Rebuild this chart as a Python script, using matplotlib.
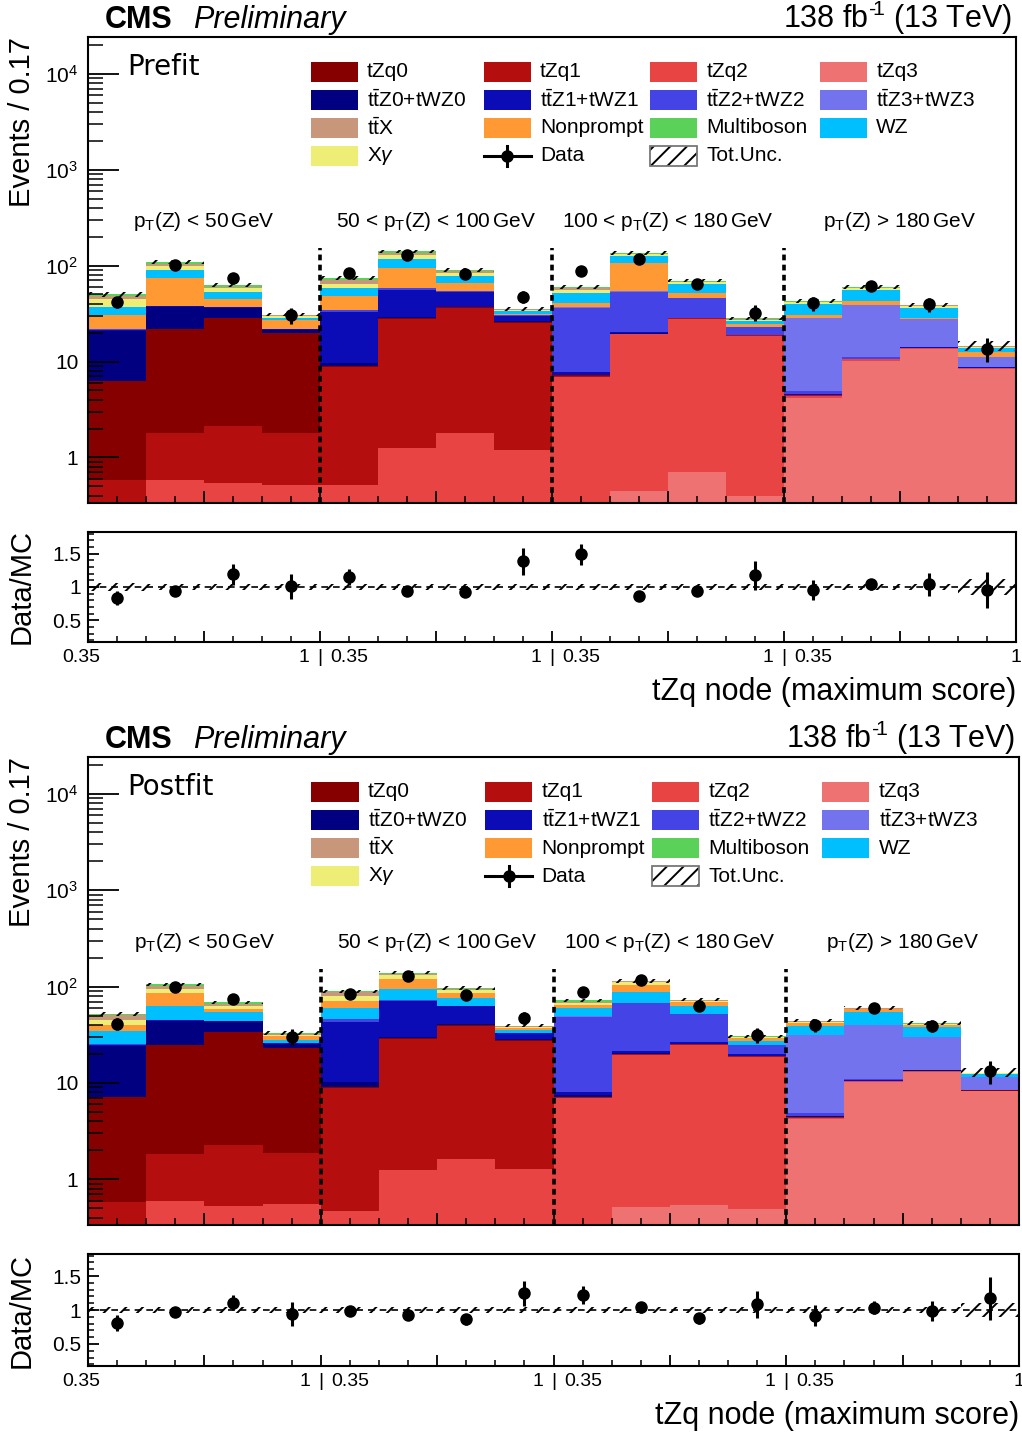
import numpy as np
import matplotlib.pyplot as plt
import matplotlib.ticker as mticker
import matplotlib.transforms as mtransforms
from matplotlib.patches import Rectangle

plt.rcParams['font.family'] = ['Liberation Sans', 'DejaVu Sans']
plt.rcParams['mathtext.fontset'] = 'custom'
plt.rcParams['mathtext.rm'] = 'Liberation Sans'
plt.rcParams['mathtext.it'] = 'Liberation Sans:italic'
plt.rcParams['mathtext.bf'] = 'Liberation Sans:bold'
plt.rcParams['hatch.linewidth'] = 1.4

W, H = 1022, 1433

# 4 pT(Z) regions x 4 bins of the tZq node score
n_bins = 16
region_labels = [r'p$_{\mathrm{T}}$(Z) < 50$\,$GeV',
                 r'50 < p$_{\mathrm{T}}$(Z) < 100$\,$GeV',
                 r'100 < p$_{\mathrm{T}}$(Z) < 180$\,$GeV',
                 r'p$_{\mathrm{T}}$(Z) > 180$\,$GeV']
x_edge_labels = ['0.35', '1 | 0.35', '1 | 0.35', '1 | 0.35', '1']

# ---------------- prefit ----------------
pre_tzq0 = [5.74, 20.2, 26.0, 18.2, 0.2, 0.7, 0.6, 0.5, 0.05, 0.05, 0.05, 0.05, 0.05, 0.05, 0.05, 0.05]
pre_tzq1 = [0.58, 1.21, 1.59, 1.28, 8.2, 26.2, 34.2, 24.2, 0.15, 0.35, 0.4, 0.3, 0.05, 0.1, 0.2, 0.05]
pre_tzq2 = [0.0, 0.58, 0.54, 0.51, 0.51, 1.24, 1.79, 1.19, 6.96, 18.7, 27.0, 18.0, 0.2, 0.3, 0.3, 0.1]
pre_tzq3 = [0.0, 0.0, 0.0, 0.0, 0.0, 0.0, 0.0, 0.0, 0.0, 0.45, 0.70, 0.40, 4.2, 10.2, 13.4, 8.4]
pre_ttz0 = [14.5, 15.0, 8.0, 1.4, 0.8, 0.8, 0.6, 0.5, 0.15, 0.1, 0.1, 0.1, 0.02, 0.02, 0.02, 0.02]
pre_ttz1 = [0.6, 0.8, 0.5, 0.3, 23.3, 26.7, 16.3, 3.6, 0.55, 0.5, 0.3, 0.2, 0.05, 0.05, 0.05, 0.05]
pre_ttz2 = [0.3, 0.3, 0.2, 0.1, 1.3, 2.4, 1.5, 0.3, 28.45, 33.35, 16.95, 3.95, 0.35, 0.5, 0.3, 0.1]
pre_ttz3 = [0.02, 0.02, 0.02, 0.02, 0.02, 0.02, 0.02, 0.02, 0.3, 0.3, 0.2, 0.1, 23.2, 27.5, 13.3, 2.5]
pre_nonprompt = [8.5, 35.7, 7.6, 5.1, 13.8, 36.0, 10.3, 1.0, 4.4, 52.2, 5.8, 1.8, 2.8, 3.9, 0.9, 1.2]
pre_wz = [7.0, 16.4, 9.1, 1.8, 9.9, 23.5, 13.4, 2.2, 11.2, 18.5, 12.8, 1.4, 8.5, 13.0, 7.8, 1.5]
pre_xgamma = [7.2, 9.8, 4.5, 1.0, 5.7, 12.0, 5.6, 1.0, 3.4, 7.1, 2.7, 0.9, 1.9, 2.4, 1.8, 0.3]
pre_ttx = [3.7, 4.0, 2.2, 0.6, 7.0, 7.2, 3.4, 0.7, 2.4, 1.9, 1.2, 0.5, 0.7, 1.0, 0.3, 0.2]
pre_multiboson = [2.0, 4.6, 2.6, 0.6, 3.1, 3.9, 2.5, 0.4, 1.7, 1.5, 1.6, 0.4, 0.6, 1.2, 0.3, 0.1]
pre_data = [41.3, 101.7, 73.8, 30.3, 83.2, 129.5, 81.8, 47.4, 87.7, 117.5, 63.7, 32.4, 40.3, 61.3, 39.7, 13.6]
pre_ratio = [0.835, 0.935, 1.19, 1.01, 1.15, 0.935, 0.925, 1.385, 1.49, 0.865, 0.935, 1.175, 0.96, 1.04, 1.04, 0.96]
pre_ratio_err = [0.11, 0.05, 0.16, 0.19, 0.12, 0.05, 0.06, 0.2, 0.16, 0.04, 0.06, 0.22, 0.15, 0.08, 0.17, 0.27]
pre_unc = [0.055, 0.045, 0.045, 0.045, 0.045, 0.045, 0.045, 0.045, 0.04, 0.04, 0.04, 0.045, 0.045, 0.045, 0.05, 0.12]

# ---------------- postfit ----------------
post_tzq0 = [6.52, 23.07, 31.23, 21.14, 0.2, 0.66, 0.69, 0.53, 0.05, 0.05, 0.05, 0.05, 0.05, 0.05, 0.05, 0.05]
post_tzq1 = [0.578, 1.24, 1.74, 1.31, 8.36, 27.3, 37.7, 26.0, 0.15, 0.35, 0.35, 0.3, 0.05, 0.1, 0.2, 0.05]
post_tzq2 = [0.0, 0.588, 0.526, 0.547, 0.466, 1.24, 1.61, 1.27, 6.95, 19.0, 24.4, 18.3, 0.15, 0.2, 0.2, 0.05]
post_tzq3 = [0.0, 0.0, 0.0, 0.0, 0.0, 0.0, 0.0, 0.0, 0.05, 0.52, 0.543, 0.485, 4.22, 10.2, 13.0, 8.2]
post_ttz0 = [17.2, 18.9, 10.2, 2.4, 1.17, 0.8, 0.7, 0.6, 0.3, 0.3, 0.2, 0.1, 0.02, 0.02, 0.02, 0.02]
post_ttz1 = [0.7, 1.0, 0.5, 0.4, 32.5, 40.2, 21.5, 4.6, 0.5, 1.38, 1.26, 0.66, 0.05, 0.05, 0.05, 0.05]
post_ttz2 = [0.4, 0.3, 0.2, 0.1, 3.6, 2.5, 1.3, 0.3, 40.9, 45.9, 25.3, 4.8, 0.3, 0.3, 0.2, 0.1]
post_ttz3 = [0.02, 0.02, 0.02, 0.02, 0.02, 0.02, 0.02, 0.02, 0.3, 0.3, 0.2, 0.1, 26.8, 29.4, 16.5, 3.0]
post_wz = [9.5, 17.1, 9.9, 1.9, 13.5, 22.6, 12.7, 2.2, 10.6, 20.2, 11.2, 2.5, 7.8, 14.0, 8.2, 0.8]
post_nonprompt = [5.1, 23.7, 4.6, 2.7, 11.0, 24.0, 10.3, 1.4, 5.2, 17.0, 5.5, 1.7, 2.3, 3.6, 1.6, 0.2]
post_xgamma = [5.1, 9.4, 4.6, 1.0, 8.3, 11.7, 4.9, 1.1, 2.9, 6.7, 2.0, 0.7, 1.3, 1.1, 0.9, 0.1]
post_ttx = [5.8, 6.5, 2.7, 0.8, 8.6, 5.6, 3.1, 0.8, 2.1, 1.5, 1.0, 0.4, 0.8, 0.6, 0.4, 0.1]
post_multiboson = [1.2, 4.0, 2.7, 0.7, 1.7, 3.4, 2.3, 0.6, 1.9, 1.3, 1.0, 0.4, 0.6, 0.6, 0.4, 0.1]
post_data = [41.0, 100.0, 73.6, 30.3, 83.0, 129.5, 82.5, 47.4, 88.0, 116.3, 63.5, 31.6, 40.0, 60.2, 39.4, 13.3]
post_ratio = [0.805, 0.975, 1.107, 0.94, 0.985, 0.927, 0.863, 1.244, 1.22, 1.04, 0.878, 1.083, 0.917, 1.034, 0.985, 1.17]
post_ratio_err = [0.115, 0.04, 0.11, 0.18, 0.05, 0.04, 0.08, 0.18, 0.13, 0.08, 0.08, 0.2, 0.15, 0.1, 0.15, 0.32]
post_unc = [0.05, 0.04, 0.04, 0.04, 0.04, 0.04, 0.04, 0.04, 0.04, 0.04, 0.04, 0.04, 0.04, 0.04, 0.045, 0.11]

# colours
c_tzq = ['#870000', '#b40e0e', '#e84444', '#ef7272']
c_ttz = ['#000080', '#0c0cb6', '#4444e6', '#7373ee']
c_ttx = '#c8977b'
c_np = '#ff9933'
c_mb = '#5ad25a'
c_wz = '#00bfff'
c_xg = '#eeee77'

ttz_lab = r't$\bar{\mathrm{t}}$Z%d+tWZ%d'
legend_entries = [
    ('tZq0', 'box', c_tzq[0]), ('tZq1', 'box', c_tzq[1]), ('tZq2', 'box', c_tzq[2]), ('tZq3', 'box', c_tzq[3]),
    (ttz_lab % (0, 0), 'box', c_ttz[0]), (ttz_lab % (1, 1), 'box', c_ttz[1]),
    (ttz_lab % (2, 2), 'box', c_ttz[2]), (ttz_lab % (3, 3), 'box', c_ttz[3]),
    (r't$\bar{\mathrm{t}}$X', 'box', c_ttx), ('Nonprompt', 'box', c_np), ('Multiboson', 'box', c_mb), ('WZ', 'box', c_wz),
    (r'X$\gamma$', 'box', c_xg), ('Data', 'data', 'black'), ('Tot.Unc.', 'unc', 'black'),
]


def fy(y):
    return 1 - y / H


def draw_panel(top, bottom, rtop, rbottom, right, stack, data, ratio, ratio_err, unc, fit_label):
    edges = np.arange(n_bins + 1)
    centers = edges[:-1] + 0.5
    width = (right - 88) / W

    ax = fig.add_axes([88 / W, fy(bottom), width, (bottom - top) / H])
    axr = fig.add_axes([88 / W, fy(rbottom), width, (rbottom - rtop) / H])

    # stacked histogram
    cum = np.full(n_bins, 1e-3)
    for vals, col in stack:
        newcum = cum + np.array(vals)
        ax.stairs(newcum, edges, baseline=cum, fill=True, color=col, lw=0)
        cum = newcum
    total = cum
    unc = np.array(unc)
    ax.bar(edges[:-1], 2 * unc * total, bottom=total * (1 - unc), width=1, align='edge',
           fill=False, hatch='//', lw=0, edgecolor='black', zorder=3)

    data = np.array(data)
    ratio = np.array(ratio)
    ratio_err = np.array(ratio_err)
    data_err = data * ratio_err / ratio
    ax.errorbar(centers, data, yerr=data_err, fmt='o', color='black', ms=8,
                elinewidth=2.2, capsize=0, zorder=6)

    for b in [4, 8, 12]:
        ax.axvline(b, ymin=0, ymax=0.548, color='black', lw=2.6, ls=(0, (1.6, 1.2)), zorder=5)

    ax.set_yscale('log')
    ax.set_xlim(0, n_bins)
    ax.set_ylim(0.335, 2.4e4)
    ax.yaxis.set_major_locator(mticker.FixedLocator([1, 10, 100, 1000, 10000]))
    ax.yaxis.set_major_formatter(mticker.FuncFormatter(
        lambda v, p: '1' if v == 1 else ('10' if v == 10 else r'$10^{%d}$' % round(np.log10(v)))))
    ax.yaxis.set_minor_locator(mticker.LogLocator(subs=np.arange(2, 10), numticks=20))
    ax.yaxis.set_minor_formatter(mticker.NullFormatter())
    ax.xaxis.set_major_locator(mticker.MultipleLocator(2))
    ax.xaxis.set_minor_locator(mticker.MultipleLocator(0.5))
    ax.tick_params(axis='y', which='major', direction='in', length=22, width=1.3, labelsize=15, pad=7)
    ax.tick_params(axis='y', which='minor', direction='in', length=11, width=1.1)
    ax.tick_params(axis='x', which='major', direction='in', length=9, width=1.3, labelbottom=False)
    ax.tick_params(axis='x', which='minor', direction='in', length=5, width=1.1)
    for s in ax.spines.values():
        s.set_linewidth(1.5)

    trans = mtransforms.blended_transform_factory(ax.transData, ax.transAxes)
    for i, lab in enumerate(region_labels):
        ax.text(4 * i + 2, 0.593, lab, transform=trans, ha='center', va='baseline', fontsize=15)

    ax.text(0.042, 0.919, fit_label, transform=ax.transAxes, fontsize=20,
            family='DejaVu Sans', va='baseline')

    # legend drawn by hand, 4 columns row-major
    col_x = [0.240, 0.4267, 0.6056, 0.7888]
    row_y = [0.926, 0.866, 0.806, 0.746]
    bw, bh = 0.0506, 0.043
    for k, (lab, kind, col) in enumerate(legend_entries):
        x0 = col_x[k % 4]
        y0 = row_y[k // 4]
        if kind == 'box':
            ax.add_patch(Rectangle((x0, y0 - bh / 2), bw, bh, transform=ax.transAxes,
                                   facecolor=col, edgecolor='none', zorder=7))
        elif kind == 'data':
            ax.plot([x0, x0 + bw], [y0, y0], transform=ax.transAxes, color='black', lw=2.2, zorder=7)
            ax.plot([x0 + bw / 2] * 2, [y0 - bh / 2, y0 + bh / 2], transform=ax.transAxes,
                    color='black', lw=2.2, zorder=7)
            ax.plot([x0 + bw / 2], [y0], 'o', transform=ax.transAxes, color='black', ms=8, zorder=8)
        else:
            ax.add_patch(Rectangle((x0, y0 - bh / 2), bw, bh, transform=ax.transAxes,
                                   fill=False, hatch='//', lw=0, edgecolor='black', zorder=7))
            ax.add_patch(Rectangle((x0, y0 - bh / 2), bw, bh, transform=ax.transAxes,
                                   fill=False, lw=1.3, edgecolor='#777777', zorder=7))
        ax.text(x0 + 0.0605, y0, lab, transform=ax.transAxes, fontsize=15, va='center', zorder=8)

    # ratio panel
    axr.bar(edges[:-1], 2 * unc, bottom=1 - unc, width=1, align='edge', fill=False,
            hatch='//', lw=0, edgecolor='black', zorder=2)
    axr.axhline(1, color='black', lw=1.2, ls=(0, (4, 3)), zorder=2)
    axr.errorbar(centers, ratio, yerr=ratio_err, fmt='o', color='black', ms=8,
                 elinewidth=2.2, capsize=0, zorder=5)
    axr.set_xlim(0, n_bins)
    axr.set_ylim(0.175, 1.825)
    axr.yaxis.set_major_locator(mticker.FixedLocator([0.5, 1, 1.5]))
    axr.yaxis.set_major_formatter(mticker.FixedFormatter(['0.5', '1', '1.5']))
    axr.yaxis.set_minor_locator(mticker.MultipleLocator(0.1))
    axr.xaxis.set_major_locator(mticker.MultipleLocator(2))
    axr.xaxis.set_minor_locator(mticker.MultipleLocator(0.5))
    axr.tick_params(axis='y', which='major', direction='in', length=8, width=1.3, labelsize=15, pad=5)
    axr.tick_params(axis='y', which='minor', direction='in', length=4, width=1.1)
    axr.tick_params(axis='x', which='major', direction='in', length=8, width=1.3, labelbottom=False)
    axr.tick_params(axis='x', which='minor', direction='in', length=4, width=1.1)
    for s in axr.spines.values():
        s.set_linewidth(1.5)

    rtrans = mtransforms.blended_transform_factory(axr.transData, axr.transAxes)
    for i, lab in enumerate(x_edge_labels):
        xe = 4 * i
        if ' | ' in lab:
            left, rightlab = lab.split(' | ')
            axr.text(xe - 0.18, -0.06, left, transform=rtrans, ha='right', va='top', fontsize=14)
            axr.text(xe, -0.06, '|', transform=rtrans, ha='center', va='top', fontsize=14)
            axr.text(xe + 0.18, -0.06, rightlab, transform=rtrans, ha='left', va='top', fontsize=14)
        elif i == 0:
            axr.text(xe - 0.12, -0.06, lab, transform=rtrans, ha='center', va='top', fontsize=14)
        else:
            axr.text(xe, -0.06, lab, transform=rtrans, ha='center', va='top', fontsize=14)

    # labels around the panel
    fig.text(105 / W, fy(top - 9), 'CMS', fontsize=22, weight='bold', va='baseline')
    fig.text(193 / W, fy(top - 9), 'Preliminary', fontsize=22, style='italic', va='baseline')
    fig.text((right - 4) / W, fy(top - 9), '138 fb$^{\u2010\\!1}$ (13 TeV)', fontsize=22,
             ha='right', va='baseline')
    fig.text(22 / W, fy(top), 'Events / 0.17', rotation=90, fontsize=21, ha='center', va='top')
    fig.text(22 / W, fy((rtop + rbottom) / 2), 'Data/MC', rotation=90, fontsize=21,
             ha='center', va='center')
    fig.text(right / W, fy(rbottom + 50), 'tZq node (maximum score)', fontsize=22,
             ha='right', va='center')


fig = plt.figure(figsize=(W / 100, H / 100), dpi=100)

pre_stack = [(pre_tzq3, c_tzq[3]), (pre_tzq2, c_tzq[2]), (pre_tzq1, c_tzq[1]), (pre_tzq0, c_tzq[0]),
             (pre_ttz0, c_ttz[0]), (pre_ttz1, c_ttz[1]), (pre_ttz2, c_ttz[2]), (pre_ttz3, c_ttz[3]),
             (pre_nonprompt, c_np), (pre_wz, c_wz), (pre_xgamma, c_xg), (pre_ttx, c_ttx),
             (pre_multiboson, c_mb)]
post_stack = [(post_tzq3, c_tzq[3]), (post_tzq2, c_tzq[2]), (post_tzq1, c_tzq[1]), (post_tzq0, c_tzq[0]),
              (post_ttz0, c_ttz[0]), (post_ttz1, c_ttz[1]), (post_ttz2, c_ttz[2]), (post_ttz3, c_ttz[3]),
              (post_wz, c_wz), (post_nonprompt, c_np), (post_xgamma, c_xg), (post_ttx, c_ttx),
              (post_multiboson, c_mb)]

draw_panel(37.3, 503, 532, 642, 1016, pre_stack, pre_data, pre_ratio, pre_ratio_err, pre_unc, 'Prefit')
draw_panel(757.3, 1225, 1254, 1366, 1019, post_stack, post_data, post_ratio, post_ratio_err, post_unc, 'Postfit')

fig.savefig('out.png', dpi=100)
